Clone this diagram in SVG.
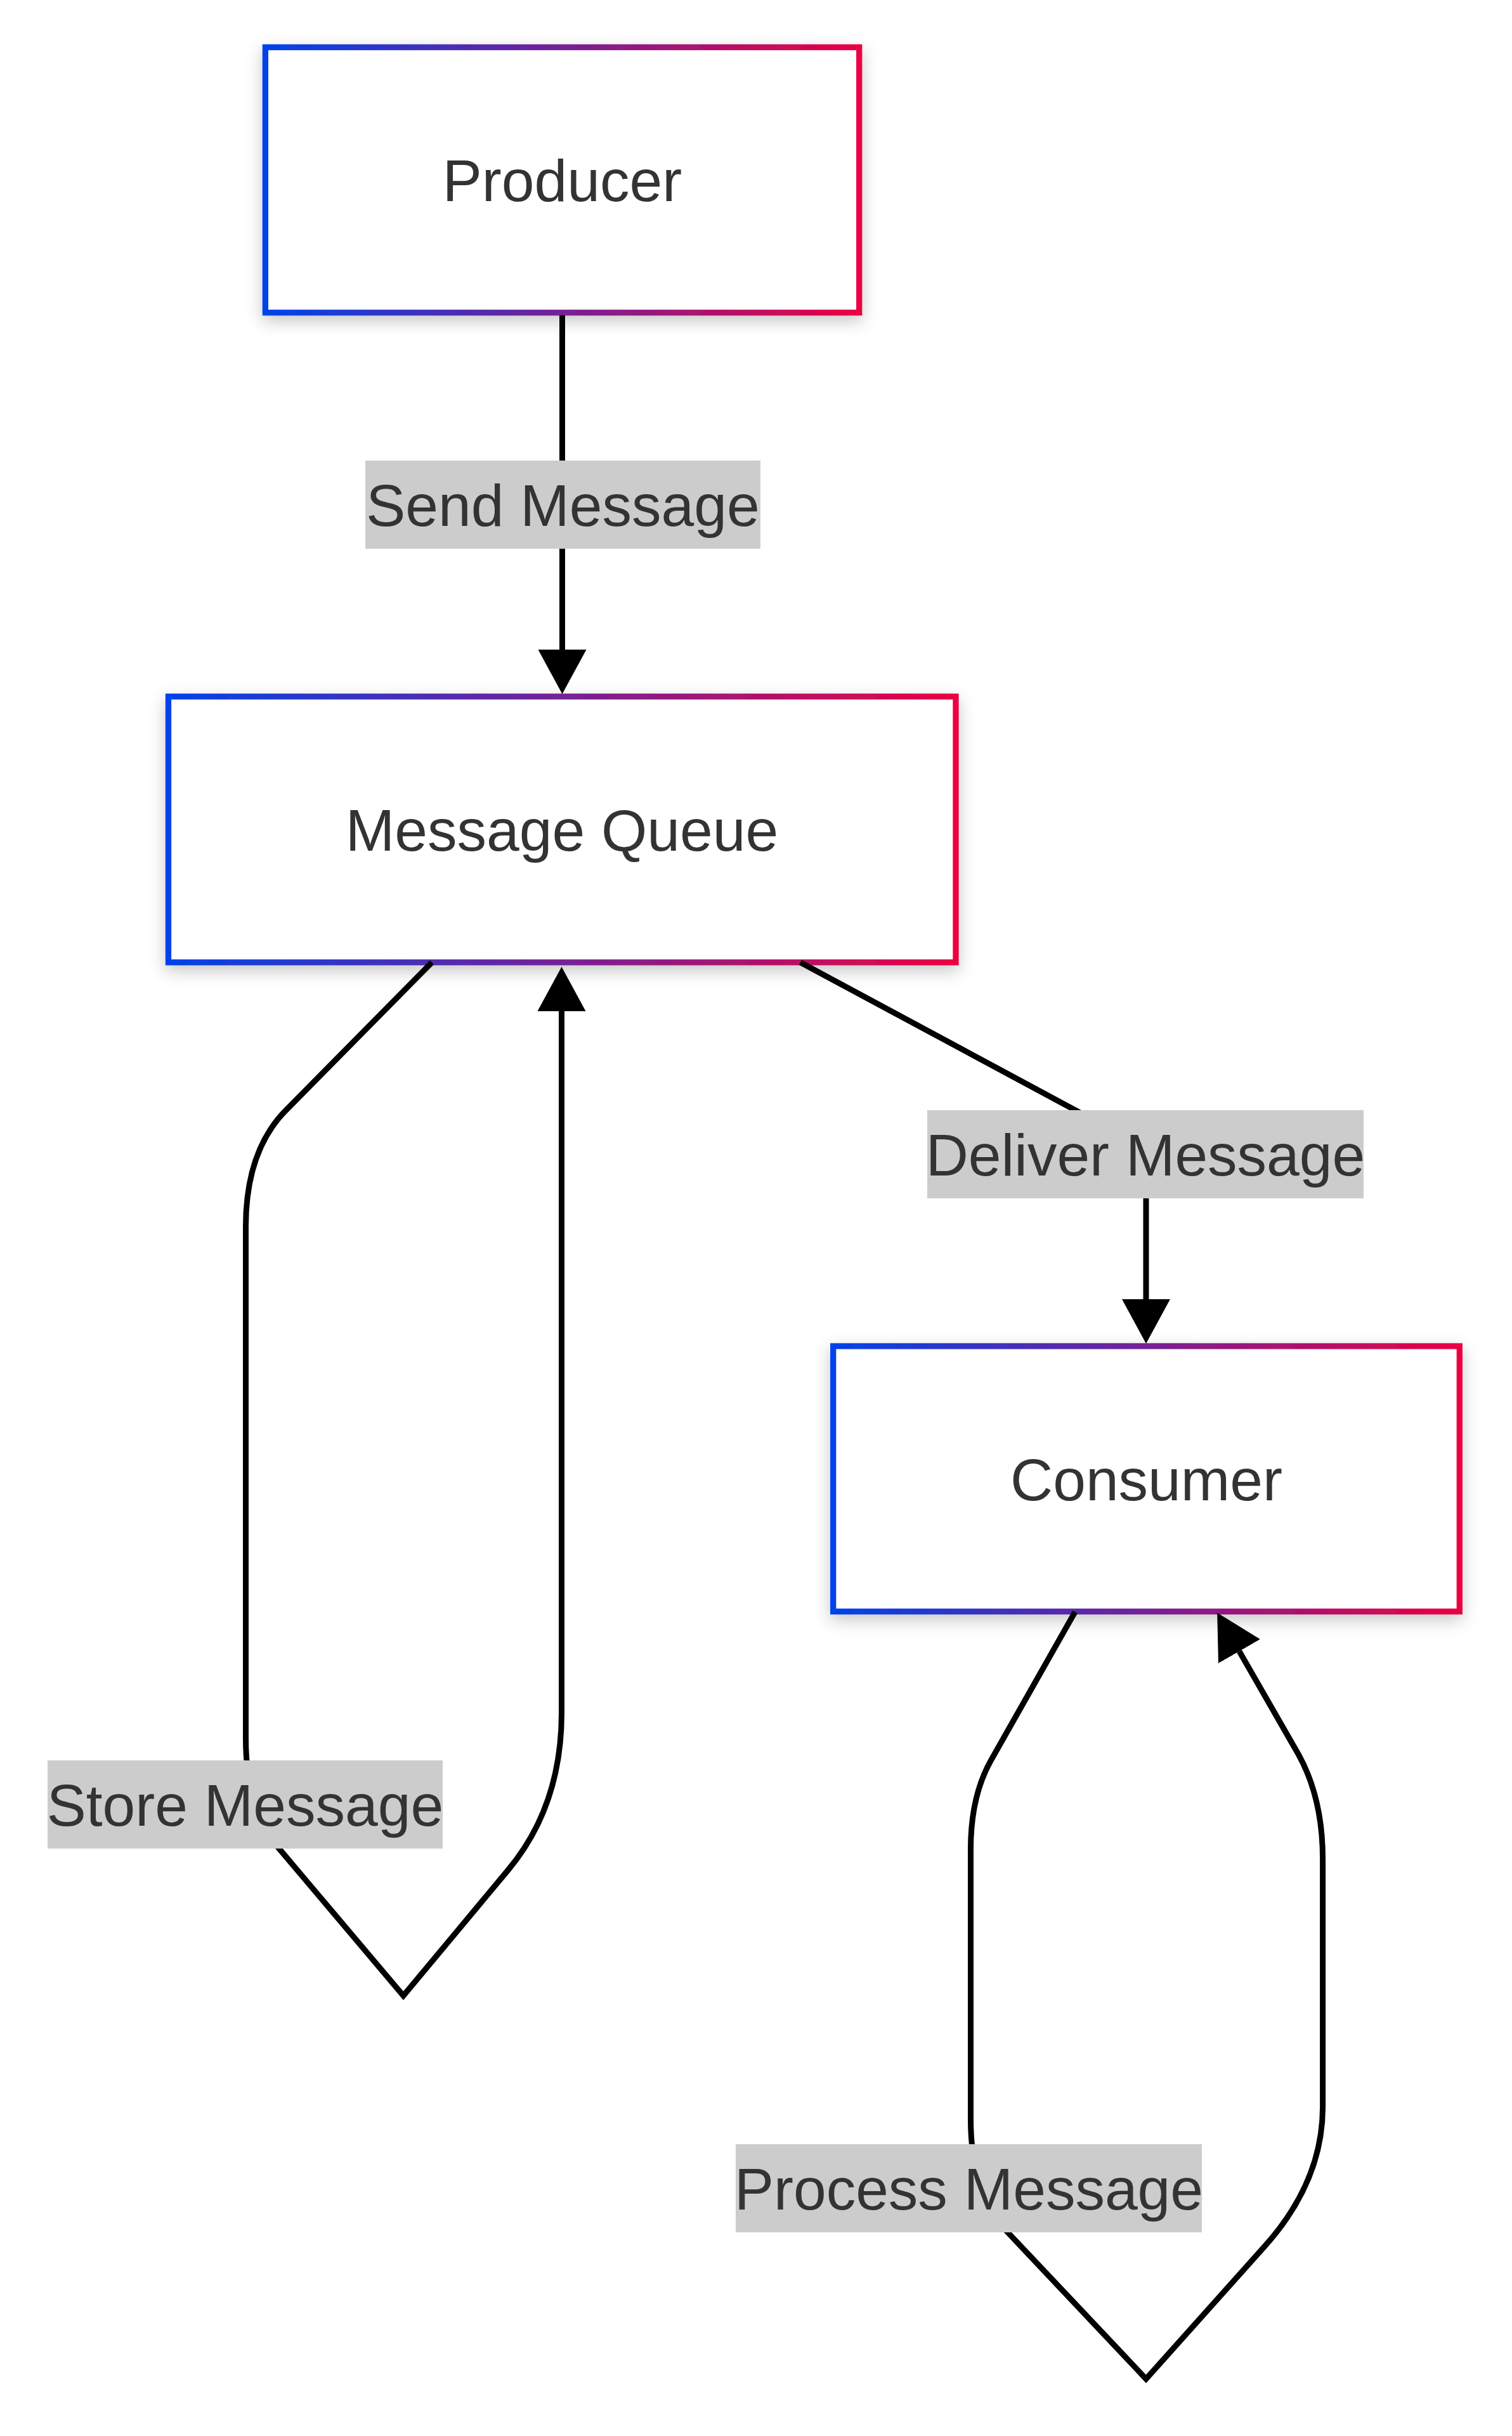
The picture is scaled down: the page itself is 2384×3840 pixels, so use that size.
<svg xmlns="http://www.w3.org/2000/svg" width="2384" height="3840" viewBox="0 0 2384 3840">
  <defs>
    <linearGradient id="nodeStroke" x1="0" y1="0" x2="1" y2="0" gradientUnits="objectBoundingBox">
      <stop offset="0" stop-color="#0042eb"/>
      <stop offset="1" stop-color="#eb0042"/>
    </linearGradient>
    <filter id="shadow" x="-10%" y="-20%" width="120%" height="145%">
      <feDropShadow dx="0" dy="9" stdDeviation="13" flood-color="#000" flood-opacity="0.22"/>
    </filter>
    <marker id="arrow" markerUnits="userSpaceOnUse" viewBox="0 0 70 76" refX="0" refY="38" markerWidth="70" markerHeight="76" orient="auto">
      <path d="M0,0 L70,38 L0,76 Z" fill="#000"/>
    </marker>
  </defs>
  <style>
    .node rect { fill: #ffffff; stroke: url(#nodeStroke); stroke-width: 9.3; filter: url(#shadow); }
    .node text { font-family: "Liberation Sans", Arial, sans-serif; font-size: 93px; fill: #333333; text-anchor: middle; }
    .edge { fill: none; stroke: #000000; stroke-width: 9; }
    .edgeLabel rect { fill: #cccccc; }
    .edgeLabel text { font-family: "Liberation Sans", Arial, sans-serif; font-size: 93px; fill: #333333; text-anchor: middle; }
  </style>
  <rect x="0" y="0" width="2384" height="3840" fill="#ffffff"/>

  <g id="nodes">
    <g id="node-producer" class="node">
      <rect x="418.4" y="74.5" width="936.3" height="418.3"/>
      <text x="886.5" y="317">Producer</text>
    </g>
    <g id="node-queue" class="node">
      <rect x="265.5" y="1098" width="1241.5" height="419"/>
      <text x="886" y="1341">Message Queue</text>
    </g>
    <g id="node-consumer" class="node">
      <rect x="1313.7" y="2122" width="987.6" height="418.3"/>
      <text x="1807.5" y="2365">Consumer</text>
    </g>
  </g>

  <g id="connectors">
    <path id="edge-send" class="edge" d="M886.5,497 L886.5,1024" marker-end="url(#arrow)"/>
    <path id="edge-deliver" class="edge" d="M1262,1517 L1740,1774 Q1807,1810 1807,1880 L1807,2048" marker-end="url(#arrow)"/>
    <path id="edge-store" class="edge" d="M681,1517 L452,1749 Q387.5,1813 387.5,1934 L387.5,2740 Q387.5,2852 440,2914 L636,3146 L801,2948 Q885.5,2847 885.5,2700 L885.5,1594" marker-end="url(#arrow)"/>
    <path id="edge-process" class="edge" d="M1695,2541 L1563,2774 Q1530.5,2831 1530.5,2915 L1530.5,3340 Q1530.5,3457 1588,3518 L1807,3750 L1994,3541 Q2085.6,3439 2085.6,3321 L2085.6,2931 Q2085.6,2834 2047,2765 L1954,2603" marker-end="url(#arrow)"/>
  </g>

  <g id="edge-labels">
    <g id="label-send" class="edgeLabel">
      <rect x="576" y="726" width="623" height="139"/>
      <text x="887.5" y="829">Send Message</text>
    </g>
    <g id="label-deliver" class="edgeLabel">
      <rect x="1462" y="1750" width="688" height="139"/>
      <text x="1806" y="1853">Deliver Message</text>
    </g>
    <g id="label-store" class="edgeLabel">
      <rect x="75" y="2775" width="623" height="139"/>
      <text x="386.5" y="2878">Store Message</text>
    </g>
    <g id="label-process" class="edgeLabel">
      <rect x="1160" y="3380" width="735" height="139"/>
      <text x="1527.5" y="3483">Process Message</text>
    </g>
  </g>
</svg>
